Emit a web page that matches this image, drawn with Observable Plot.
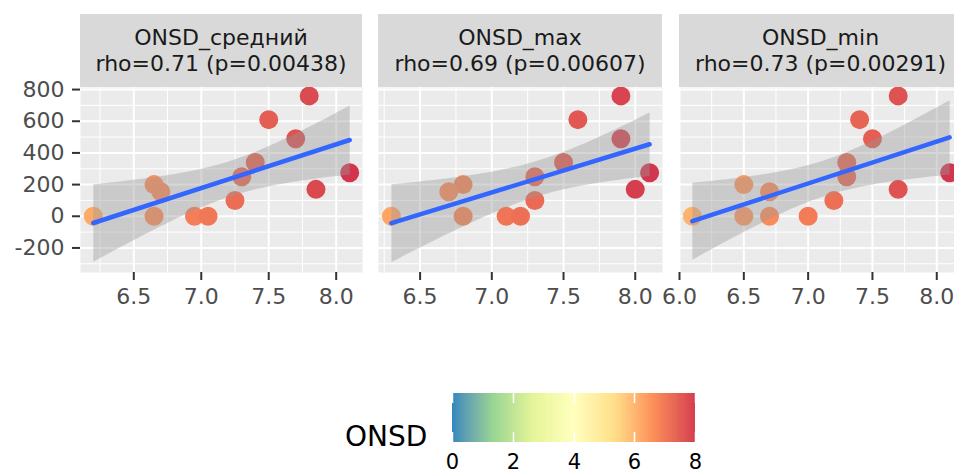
<!DOCTYPE html>
<html>
<head>
<meta charset="utf-8">
<script src="https://cdn.jsdelivr.net/npm/d3@7"></script>
<script src="https://cdn.jsdelivr.net/npm/@observablehq/plot@0.6"></script>
<style>
html, body { margin: 0; padding: 0; background: #fff; overflow: hidden; }
#root { position: relative; width: 954px; height: 476px; overflow: hidden; font-family: "DejaVu Sans", sans-serif; }
.panel { position: absolute; top: 0; }
.strip { position: absolute; top: 14px; height: 73px; background: #D9D9D9; color: #1A1A1A; font-size: 22px; line-height: 26px; text-align: center; display: flex; flex-direction: column; justify-content: center; white-space: nowrap; }
#legtitle { position: absolute; left: 345px; top: 423px; font-size: 28px; line-height: 28px; color: #000; }
#leg { position: absolute; left: 442px; top: 393px; }
#leg svg { overflow: visible; }
#leg text { font-size: 21px; font-family: "DejaVu Sans", sans-serif; fill: #000; }
#leg .tick line { stroke: #fff; stroke-width: 1.5; stroke-dasharray: 10 29 40; }
</style>
</head>
<body>
<div id="root"></div>
<script>
// ---- data ----
const panelNames = ["ONSD_средний", "ONSD_max", "ONSD_min"];
const panelStats = ["rho=0.71 (p=0.00438)", "rho=0.69 (p=0.00607)", "rho=0.73 (p=0.00291)"];
const response = [0, 0, 0, 0, 200, 155, 100, 250, 340, 610, 490, 760, 170, 275];
const onsdMean = [6.2, 6.65, 6.95, 7.05, 6.65, 6.7, 7.25, 7.3, 7.4, 7.5, 7.7, 7.8, 7.85, 8.1];
const onsdMax  = [6.3, 6.8, 7.1, 7.2, 6.8, 6.7, 7.3, 7.3, 7.5, 7.6, 7.9, 7.9, 8.0, 8.1];
const onsdMin  = [6.1, 6.5, 6.7, 7.0, 6.5, 6.7, 7.2, 7.3, 7.3, 7.4, 7.5, 7.7, 7.7, 8.1];
const yTicks = [-200, 0, 200, 400, 600, 800];
const yMinor = [-300, -100, 100, 300, 500, 700];
const xTicks = [[6.5, 7.0, 7.5, 8.0], [6.5, 7.0, 7.5, 8.0], [6.0, 6.5, 7.0, 7.5, 8.0]];
const xMinor = [[6.25, 6.75, 7.25, 7.75], [6.25, 6.75, 7.25, 7.75], [6.25, 6.75, 7.25, 7.75]];
const legendTicks = [0, 2, 4, 6, 8];
const spectralColors = ["#3288BD", "#99D594", "#E6F598", "#FFFFBF", "#FEE08B", "#FC8D59", "#D53E4F"];

const seriesX = [onsdMean, onsdMax, onsdMin];
const yDomain = [-355, 813];
const spectral = d3.piecewise(d3.interpolateLab, spectralColors);
const colorScale = {type: "linear", domain: [0, 8], interpolate: spectral};

const root = document.getElementById("root");
const layout = [
  {left: 0, width: 362, marginLeft: 80},
  {left: 378, width: 284, marginLeft: 0},
  {left: 679, width: 283, marginLeft: 0}
];

layout.forEach((L, i) => {
  const xs = seriesX[i];
  const data = xs.map((x, j) => ({onsd: x, y: response[j]}));
  const [x0, x1] = d3.extent(xs);
  const pad = (x1 - x0) * 0.05;
  const marks = [
    Plot.frame({fill: "#EBEBEB"}),
    Plot.gridX({ticks: xMinor[i], stroke: "#fff", strokeOpacity: 1, strokeWidth: 1}),
    Plot.gridY({ticks: yMinor, stroke: "#fff", strokeOpacity: 1, strokeWidth: 1}),
    Plot.gridX({ticks: xTicks[i], stroke: "#fff", strokeOpacity: 1, strokeWidth: 2}),
    Plot.gridY({ticks: yTicks, stroke: "#fff", strokeOpacity: 1, strokeWidth: 2}),
    Plot.dot(data, {x: "onsd", y: "y", r: 9.5, fill: "onsd"}),
    Plot.linearRegressionY(data, {x: "onsd", y: "y", ci: 0.95, stroke: "#3366FF", strokeWidth: 4.5, fill: "#999999", fillOpacity: 0.4}),
    Plot.axisX({ticks: xTicks[i], tickSize: 8, tickPadding: 8, stroke: "#333333", strokeWidth: 2, fill: "#4D4D4D", fontSize: 22, label: null, tickFormat: d3.format(".1f")})
  ];
  if (i === 0) {
    marks.push(Plot.axisY({ticks: yTicks, tickSize: 8, tickPadding: 8, stroke: "#333333", strokeWidth: 2, fill: "#4D4D4D", fontSize: 22, label: null, tickFormat: d => String(d)}));
  }
  const chart = Plot.plot({
    width: L.width,
    height: 312,
    marginLeft: L.marginLeft,
    marginRight: 0,
    marginTop: 87,
    marginBottom: 40,
    style: {fontFamily: "DejaVu Sans, sans-serif", fontSize: "22px", background: "transparent", overflow: "visible"},
    x: {domain: [x0 - pad, x1 + pad], axis: null},
    y: {domain: yDomain, axis: null},
    color: colorScale,
    marks
  });
  chart.classList.add("panel");
  chart.style.left = L.left + "px";
  chart.style.position = "absolute";
  root.appendChild(chart);

  const strip = document.createElement("div");
  strip.className = "strip";
  strip.style.left = (L.left + L.marginLeft) + "px";
  strip.style.width = (L.width - L.marginLeft) + "px";
  strip.innerHTML = `<div>${panelNames[i]}</div><div>${panelStats[i]}</div>`;
  root.appendChild(strip);
});

const title = document.createElement("div");
title.id = "legtitle";
title.textContent = "ONSD";
root.appendChild(title);

const legWrap = document.createElement("div");
legWrap.id = "leg";
const leg = Plot.legend({
  color: colorScale,
  legend: "ramp",
  width: 263,
  height: 77,
  marginTop: 0,
  marginBottom: 28,
  marginLeft: 10,
  marginRight: 10,
  ticks: legendTicks,
  tickSize: 9,
  tickFormat: d => String(d),
  label: null
});
legWrap.appendChild(leg);
root.appendChild(legWrap);
</script>
</body>
</html>
